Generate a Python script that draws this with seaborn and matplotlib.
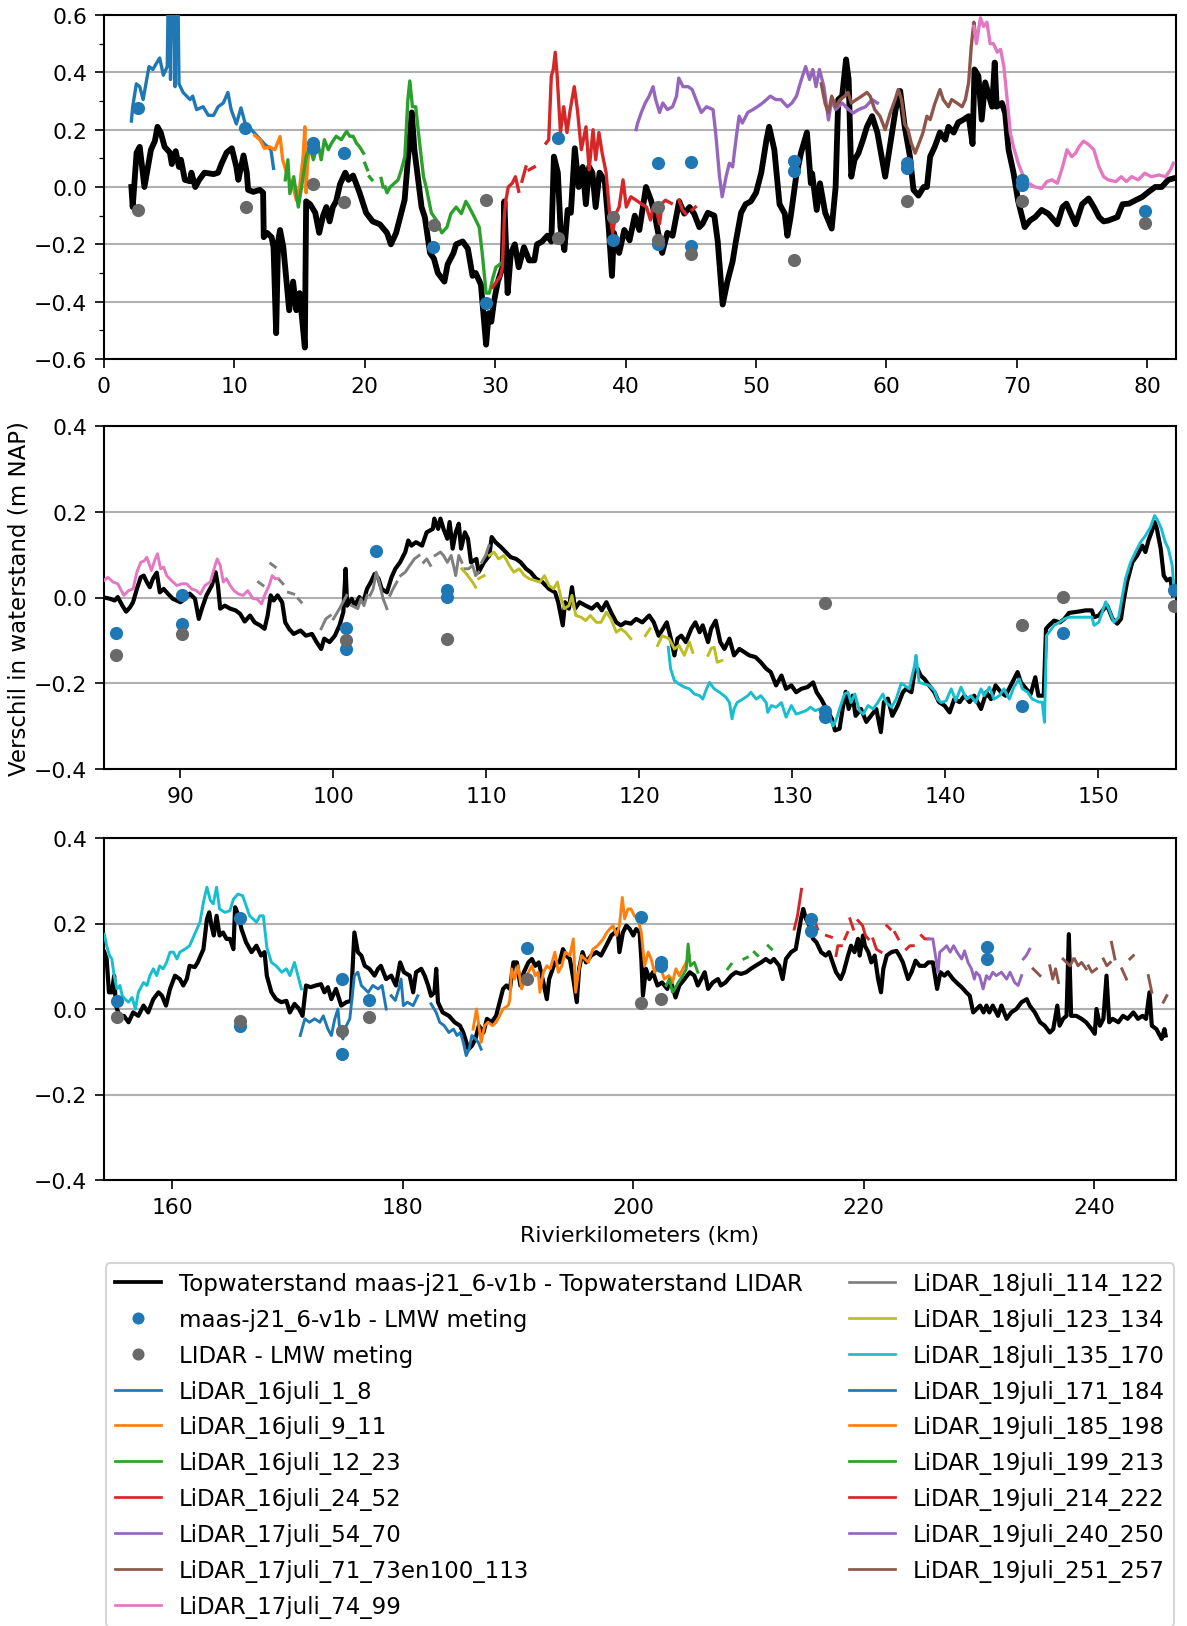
import numpy as np
import pandas as pd
import matplotlib
matplotlib.use("Agg")
import matplotlib.pyplot as plt
from matplotlib.lines import Line2D
from matplotlib.ticker import MultipleLocator
import seaborn as sns

GAP = (np.nan, np.nan)

# ---------------- Panel 1 (km 0 - 82) ----------------
p1_verschil = [
    (2.1, 0.0), (2.2, -0.07), (2.5, 0.12), (2.74, 0.14), (3.1, 0.0), (3.6, 0.13), (3.9, 0.16),
    (4.1, 0.21), (4.35, 0.19), (4.65, 0.14), (5.05, 0.12), (5.2, 0.08), (5.5, 0.125), (5.75, 0.07),
    (5.9, 0.095), (6.2, 0.025), (6.6, 0.02), (6.7, 0.05), (7.0, 0.0), (7.3, 0.025), (7.7, 0.05),
    (8.4, 0.045), (8.75, 0.05), (9.0, 0.08), (9.4, 0.12), (9.8, 0.135), (10.15, 0.07), (10.3, 0.025),
    (10.7, 0.11), (10.95, 0.05), (11.05, -0.01), (11.45, -0.017), (11.95, -0.01), (12.2, -0.02),
    (12.25, -0.175), (12.5, -0.16), (12.85, -0.175), (13.0, -0.21), (13.2, -0.51), (13.35, -0.19),
    (13.5, -0.15), (13.75, -0.21), (14.0, -0.33), (14.2, -0.43), (14.5, -0.33), (14.75, -0.43),
    (15.0, -0.37), (15.4, -0.56), (15.5, -0.05), (15.8, -0.06), (16.2, -0.09), (16.5, -0.16),
    (16.8, -0.1), (17.05, -0.07), (17.3, -0.12), (17.55, -0.07), (17.8, -0.05), (18.1, 0.01),
    (18.5, 0.05), (18.75, 0.025), (19.1, 0.04), (19.6, -0.02), (20.1, -0.09), (20.6, -0.12),
    (21.15, -0.13), (21.7, -0.16), (22.0, -0.2), (22.4, -0.16), (22.8, -0.09), (23.05, -0.045),
    (23.4, 0.15), (23.6, 0.26), (23.8, 0.13), (24.35, -0.07), (24.6, -0.105), (25.0, -0.23),
    (25.3, -0.25), (25.6, -0.3), (26.1, -0.33), (26.35, -0.27), (26.8, -0.23), (27.0, -0.2),
    (27.5, -0.19), (27.9, -0.215), (28.26, -0.31), (28.5, -0.3), (28.9, -0.34), (29.3, -0.55),
    (29.5, -0.44), (29.7, -0.47), (29.9, -0.40), (30.2, -0.33), (30.56, -0.28), (30.7, -0.05),
    (30.95, -0.37), (31.2, -0.23), (31.5, -0.2), (31.8, -0.28), (32.2, -0.21), (32.6, -0.256),
    (33.0, -0.256), (33.2, -0.2), (33.6, -0.19), (34.0, -0.17), (34.3, -0.19), (34.5, 0.106),
    (34.8, 0.05), (35.0, -0.14), (35.3, -0.22), (35.55, -0.08), (35.8, -0.09), (36.1, 0.135),
    (36.4, 0.0), (36.7, 0.07), (36.95, -0.06), (37.2, 0.07), (37.45, 0.05), (37.7, -0.07),
    (38.0, 0.05), (38.4, 0.02), (38.7, -0.14), (38.95, -0.31), (39.1, -0.16), (39.5, -0.23),
    (39.9, -0.15), (40.3, -0.186), (40.7, -0.10), (41.05, -0.15), (41.56, 0.0), (41.95, -0.047),
    (42.2, -0.09), (42.45, -0.15), (42.8, -0.23), (43.2, -0.16), (43.6, -0.17), (44.1, -0.05),
    (44.5, -0.093), (44.9, -0.07), (45.25, -0.093), (45.65, -0.14), (45.9, -0.128), (46.3, -0.09),
    (46.8, -0.10), (47.06, -0.19), (47.44, -0.41), (47.8, -0.33), (48.2, -0.26), (48.45, -0.19),
    (48.85, -0.09), (49.2, -0.06), (49.6, -0.05), (50.0, -0.02), (50.4, 0.05), (50.8, 0.165),
    (51.0, 0.21), (51.4, 0.13), (51.8, -0.06), (52.2, -0.093), (52.4, -0.17), (52.65, -0.105),
    (53.07, 0.036), (53.45, 0.12), (53.9, 0.19), (54.2, 0.013), (54.3, 0.047), (54.65, -0.08),
    (54.9, 0.013), (55.3, -0.09), (55.8, -0.145), (56.1, 0.0), (56.3, 0.305), (56.6, 0.317),
    (56.9, 0.445), (57.1, 0.375), (57.3, 0.036), (57.55, 0.095), (57.85, 0.118), (58.2, 0.165),
    (58.5, 0.21), (58.9, 0.247), (59.3, 0.19), (59.9, 0.036), (60.3, 0.153), (60.7, 0.27),
    (61.05, 0.335), (61.4, 0.21), (61.8, 0.106), (62.07, -0.01), (62.45, -0.03), (62.85, 0.0),
    (63.1, 0.0), (63.35, 0.106), (63.7, 0.14), (64.1, 0.19), (64.5, 0.165), (64.75, 0.21),
    (65.15, 0.19), (65.5, 0.225), (65.9, 0.235), (66.3, 0.247), (66.6, 0.15), (66.75, 0.41),
    (67.05, 0.387), (67.3, 0.235), (67.57, 0.365), (67.8, 0.328), (68.1, 0.28), (68.3, 0.434),
    (68.45, 0.28), (68.85, 0.293), (69.1, 0.258), (69.36, 0.13), (69.74, 0.05), (70.1, -0.05),
    (70.6, -0.14), (71.0, -0.117), (71.4, -0.105), (71.9, -0.08), (72.4, -0.093), (73.1, -0.13),
    (73.5, -0.07), (73.8, -0.058), (74.5, -0.13), (75.0, -0.06), (75.5, -0.04), (75.9, -0.07),
    (76.3, -0.105), (76.65, -0.12), (77.0, -0.117), (77.7, -0.105), (78.1, -0.06), (78.6, -0.058),
    (79.1, -0.046), (79.6, -0.035), (80.1, -0.017), (80.6, 0.0), (81.1, 0.0), (81.6, 0.025), (82.0, 0.03),
]

p1_16juli_1_8 = [
    (2.1, 0.23), (2.2, 0.28), (2.48, 0.36), (2.74, 0.35), (3.0, 0.305), (3.45, 0.42), (3.75, 0.41),
    (4.0, 0.43), (4.27, 0.45), (4.55, 0.39), (4.85, 0.42), (5.0, 0.95), (5.1, 0.375), (5.3, 0.95),
    (5.45, 0.35), (5.6, 0.95), (5.75, 0.36), (6.06, 0.33), (6.6, 0.305), (6.8, 0.317), (7.1, 0.27),
    (7.6, 0.28), (8.0, 0.25), (8.4, 0.25), (8.75, 0.28), (9.15, 0.293), (9.5, 0.33), (9.75, 0.27),
    (10.15, 0.22), (10.5, 0.276), (10.9, 0.21), (11.3, 0.2), (11.7, 0.18), (12.3, 0.15),
    (12.8, 0.13), (13.0, 0.065),
]

p1_16juli_9_11 = [
    (11.56, 0.18), (11.95, 0.165), (12.3, 0.135), (12.7, 0.14), (13.1, 0.13), (13.5, 0.176),
    (13.7, 0.095), (14.1, 0.036), (14.5, 0.0), (14.75, -0.046), (15.0, 0.0), (15.27, 0.106),
    (15.4, 0.21), (15.5, -0.02), (15.6, 0.08), (15.8, 0.15),
]

p1_16juli_12_23 = [
    (13.9, 0.025), (14.1, 0.095), (14.25, -0.023), (14.55, 0.036), (14.9, -0.07), (15.15, 0.0),
    (15.5, 0.106), (15.8, 0.14), (16.05, 0.095), (16.4, 0.153), (16.65, 0.095), (16.9, 0.165),
    (17.2, 0.13), (17.45, 0.153), (17.8, 0.177), (18.2, 0.165), (18.6, 0.194), (18.85, 0.177),
    (19.1, 0.177), (19.36, 0.153), (19.6, 0.14), (19.9, 0.118), GAP,
    (20.0, 0.083), (20.2, 0.06), GAP, (20.35, 0.036), (20.55, 0.025), GAP,
    (21.25, 0.03), (21.4, 0.0), GAP, (21.55, 0.0), (21.7, -0.02), (21.95, 0.0), (22.55, 0.025),
    (22.8, 0.06), (23.07, 0.106), (23.3, 0.305), (23.45, 0.37), (23.65, 0.28), (23.9, 0.28),
    (24.2, 0.153), (24.5, 0.036), (24.7, 0.0), (25.1, -0.09), (25.5, -0.117), (25.9, -0.16),
    (26.3, -0.14), (26.6, -0.093), (27.0, -0.07), (27.4, -0.093), (27.75, -0.05), (28.0, -0.07),
    (28.4, -0.105), (28.77, -0.14), (29.0, -0.23), (29.3, -0.37), (29.55, -0.37), (29.8, -0.32),
    (30.05, -0.28), (30.4, -0.268),
]

p1_16juli_24_52 = [
    (29.8, -0.35), (30.1, -0.33), (30.4, -0.31), (30.55, -0.28), (30.7, -0.10), (30.8, -0.05),
    (31.0, 0.0), (31.3, 0.013), (31.55, 0.036), (31.8, -0.015), GAP,
    (32.05, 0.02), (32.35, 0.07), GAP, (32.6, 0.06), (33.0, 0.07), GAP,
    (33.9, 0.153), (34.1, 0.165), (34.3, 0.387), (34.45, 0.41), (34.6, 0.47), (34.75, 0.387),
    (35.0, 0.19), (35.25, 0.28), (35.5, 0.19), (35.75, 0.27), (36.06, 0.35), (36.3, 0.27),
    (36.6, 0.13), (36.96, 0.21), (37.2, 0.06), (37.5, 0.2), (37.7, 0.095), (37.95, 0.19),
    (38.2, 0.118), (38.5, 0.05), (38.75, -0.08), (39.0, -0.16), (39.25, -0.093), (39.5, -0.07),
    (39.8, 0.025), (40.05, -0.07), (40.4, -0.034), (40.8, -0.046), (41.15, -0.057), (41.6, -0.07),
    (41.9, -0.115), (42.1, -0.07), (42.35, -0.08), (42.6, -0.128), (42.8, -0.057), (43.05, -0.046),
    (43.5, -0.057), GAP, (44.1, -0.046), (44.35, -0.08), (44.6, -0.093), GAP,
    (45.1, -0.08), (45.35, -0.07),
]

p1_17juli_54_70 = [
    (40.8, 0.2), (40.9, 0.22), (41.2, 0.26), (41.5, 0.293), (41.8, 0.317), (42.1, 0.35),
    (42.3, 0.305), (42.6, 0.26), (42.85, 0.293), (43.2, 0.27), (43.6, 0.28), (43.9, 0.317),
    (44.07, 0.38), (44.4, 0.35), (44.8, 0.35), (45.1, 0.34), (45.5, 0.293), (45.8, 0.26),
    (46.2, 0.28), (46.7, 0.27), (46.9, 0.19), (47.2, 0.036), (47.4, -0.034), (47.7, 0.036),
    (47.95, 0.083), (48.2, 0.07), (48.5, 0.18), (48.7, 0.247), (48.95, 0.223), (49.36, 0.26),
    (49.75, 0.27), (50.1, 0.28), (50.5, 0.293), (50.8, 0.305), (51.1, 0.317), (51.5, 0.305),
    (51.9, 0.305), (52.4, 0.28), (52.75, 0.293), (53.1, 0.317), (53.4, 0.364), (53.8, 0.42),
    (54.1, 0.375), (54.35, 0.41), (54.6, 0.35), (54.86, 0.41), (55.2, 0.35), (55.55, 0.234),
    (55.8, 0.305), (56.1, 0.27), (56.6, 0.293), (57.1, 0.27), (57.45, 0.258), (57.85, 0.27),
    (58.4, 0.28), (58.9, 0.305), (59.3, 0.293),
]

p1_17juli_71_73en100_113 = [
    (55.0, 0.36), (55.3, 0.29), (55.55, 0.26), (55.8, 0.317), (56.1, 0.28), (56.45, 0.305),
    (56.8, 0.317), (57.05, 0.33), (57.3, 0.293), (57.7, 0.305), (58.1, 0.317), (58.5, 0.33),
    (58.75, 0.317), (59.1, 0.27), (59.5, 0.247), (59.9, 0.2), (60.3, 0.26), (60.66, 0.305),
    (60.9, 0.34), (61.15, 0.305), (61.4, 0.22), (61.65, 0.2), (61.9, 0.153), (62.2, 0.118),
    (62.6, 0.165), (62.8, 0.19), (63.1, 0.247), (63.35, 0.235), (63.7, 0.29), (64.1, 0.34),
    (64.35, 0.305), (64.75, 0.28), (65.0, 0.305), (65.4, 0.293), (65.8, 0.28), (66.05, 0.305),
    (66.3, 0.364), (66.5, 0.49), (66.7, 0.575), (66.8, 0.54),
]

p1_17juli_74_99 = [
    (66.7, 0.56), (66.9, 0.5), (67.2, 0.59), (67.45, 0.56), (67.7, 0.575), (67.95, 0.5),
    (68.2, 0.5), (68.5, 0.47), (68.75, 0.48), (69.0, 0.42), (69.2, 0.33), (69.5, 0.188),
    (69.74, 0.14), (70.1, 0.083), (70.5, 0.036), (70.9, 0.013), (71.4, 0.0), (71.9, -0.005),
    (72.3, 0.019), (72.7, 0.025), (73.1, 0.013), (73.5, 0.07), (73.84, 0.13), (74.2, 0.106),
    (74.5, 0.118), (74.76, 0.14), (75.1, 0.16), (75.5, 0.148), (75.9, 0.13), (76.3, 0.07),
    (76.65, 0.036), (77.0, 0.025), (77.6, 0.019), (78.0, 0.036), (78.4, 0.019), (78.8, 0.036),
    (79.3, 0.025), (79.8, 0.048), (80.3, 0.036), (80.9, 0.042), (81.4, 0.036), (81.77, 0.06),
    (82.0, 0.083),
]

p1_lmw_km = [2.6, 10.8, 16.0, 16.0, 18.4, 25.2, 29.3, 34.8, 39.0, 42.5, 42.5, 45.0, 45.0,
             52.9, 52.9, 61.6, 61.6, 70.4, 70.4, 79.8]
p1_model_lmw = [0.276, 0.206, 0.153, 0.136, 0.12, -0.21, -0.405, 0.17, -0.186, 0.083, -0.2,
                0.087, -0.205, 0.092, 0.057, 0.083, 0.065, 0.025, 0.007, -0.083]
p1_lidar_km = [2.6, 10.9, 16.0, 18.4, 25.3, 29.3, 34.8, 39.0, 42.5, 42.5, 45.0, 52.9, 61.6, 70.4, 79.8]
p1_lidar_lmw = [-0.08, -0.07, 0.01, -0.053, -0.133, -0.046, -0.177, -0.106, -0.07, -0.184,
                -0.233, -0.256, -0.05, -0.048, -0.127]

# ---------------- Panel 2 (km 85 - 155) ----------------
p2_verschil = [
    (85.0, 0.0), (85.4, -0.003), (85.7, -0.007), (85.9, 0.001), (86.2, -0.019), (86.45, -0.033),
    (86.7, -0.023), (86.9, -0.011), (87.15, 0.02), (87.4, 0.047), (87.6, 0.051), (87.8, 0.036),
    (88.0, 0.024), (88.2, 0.044), (88.45, 0.058), (88.65, 0.012), (88.9, 0.02), (89.2, 0.008),
    (89.5, -0.003), (90.0, -0.011), (90.3, -0.003), (90.6, 0.009), (90.95, -0.003), (91.2, -0.05),
    (91.4, -0.026), (91.7, 0.005), (92.05, 0.028), (92.3, 0.059), (92.45, 0.028), (92.6, -0.026),
    (92.9, -0.019), (93.25, -0.026), (93.6, -0.03), (93.9, -0.038), (94.2, -0.056), (94.55, -0.042),
    (94.85, -0.058), (95.2, -0.065), (95.5, -0.073), (95.7, -0.042), (95.9, 0.005), (96.1, -0.007),
    (96.35, 0.005), (96.65, -0.011), (96.85, -0.058), (97.1, -0.073), (97.4, -0.085), (97.85, -0.077),
    (98.2, -0.089), (98.6, -0.085), (98.9, -0.104), (99.2, -0.12), (99.4, -0.096), (99.75, -0.104),
    (100.1, -0.089), (100.4, -0.065), (100.65, -0.034), (100.8, 0.067), (100.9, -0.019),
    (101.2, -0.003), (101.4, -0.019), (101.7, 0.001), (101.95, -0.011), (102.2, 0.02),
    (102.45, 0.036), (102.7, 0.055), (102.95, 0.044), (103.16, 0.02), (103.5, 0.012),
    (103.8, 0.047), (104.05, 0.067), (104.36, 0.082), (104.7, 0.106), (104.9, 0.133),
    (105.1, 0.121), (105.4, 0.129), (105.8, 0.121), (106.1, 0.152), (106.5, 0.16), (106.6, 0.184),
    (106.85, 0.16), (107.0, 0.184), (107.2, 0.16), (107.45, 0.137), (107.6, 0.176), (107.8, 0.114),
    (108.0, 0.152), (108.2, 0.172), (108.35, 0.114), (108.6, 0.152), (108.8, 0.137), (109.0, 0.082),
    (109.35, 0.09), (109.5, 0.059), (109.85, 0.082), (110.2, 0.098), (110.35, 0.141), (110.6, 0.129),
    (110.94, 0.118), (111.27, 0.106), (111.6, 0.094), (111.95, 0.09), (112.25, 0.082),
    (112.6, 0.067), (112.9, 0.059), (113.25, 0.044), (113.67, 0.036), (114.1, 0.02), (114.5, 0.012),
    (114.7, -0.011), (115.0, -0.065), (115.15, -0.011), (115.4, -0.026), (115.6, 0.024),
    (115.8, -0.026), (116.1, -0.011), (116.5, -0.019), (116.9, -0.026), (117.25, -0.015),
    (117.55, -0.03), (117.85, -0.011), (118.15, -0.034), (118.5, -0.058), (118.8, -0.065),
    (119.1, -0.058), (119.45, -0.061), (119.8, -0.05), (120.2, -0.058), (120.65, -0.042),
    (120.95, -0.058), (121.27, -0.089), (121.55, -0.073), (121.8, -0.058), (122.07, -0.096),
    (122.3, -0.135), (122.5, -0.096), (122.75, -0.089), (123.05, -0.104), (123.4, -0.073),
    (123.67, -0.058), (123.95, -0.081), (124.15, -0.065), (124.5, -0.104), (124.7, -0.073),
    (125.0, -0.054), (125.3, -0.104), (125.57, -0.12), (125.9, -0.096), (126.2, -0.135),
    (126.55, -0.12), (126.9, -0.128), (127.2, -0.135), (127.6, -0.139), (127.95, -0.151),
    (128.3, -0.166), (128.6, -0.174), (128.95, -0.205), (129.3, -0.182), (129.6, -0.213),
    (129.95, -0.205), (130.26, -0.221), (130.6, -0.213), (131.0, -0.209), (131.37, -0.198),
    (131.6, -0.221), (131.9, -0.237), (132.24, -0.26), (132.6, -0.283), (132.8, -0.31),
    (133.1, -0.306), (133.3, -0.26), (133.5, -0.22), (133.7, -0.26), (133.95, -0.229),
    (134.15, -0.276), (134.5, -0.26), (134.85, -0.29), (135.15, -0.276), (135.5, -0.26),
    (135.8, -0.314), (136.0, -0.244), (136.26, -0.236), (136.55, -0.276), (136.9, -0.252),
    (137.24, -0.221), (137.45, -0.213), (137.8, -0.221), (138.0, -0.174), (138.2, -0.166),
    (138.4, -0.182), (138.65, -0.19), (138.95, -0.205), (139.3, -0.221), (139.6, -0.244),
    (139.96, -0.252), (140.3, -0.268), (140.6, -0.237), (140.95, -0.244), (141.26, -0.229),
    (141.6, -0.244), (141.9, -0.229), (142.35, -0.26), (142.7, -0.221), (143.0, -0.237),
    (143.3, -0.205), (143.65, -0.221), (143.95, -0.229), (144.4, -0.198), (144.74, -0.174),
    (144.96, -0.198), (145.3, -0.213), (145.6, -0.225), (145.9, -0.186), (146.1, -0.229),
    (146.45, -0.229), (146.6, -0.073), (146.8, -0.065), (147.13, -0.054), (147.5, -0.058),
    (147.8, -0.05), (148.1, -0.036), (148.7, -0.033), (149.2, -0.03), (149.6, -0.03),
    (149.74, -0.046), (150.05, -0.042), (150.4, -0.026), (150.6, -0.019), (150.95, -0.05),
    (151.26, -0.061), (151.5, -0.05), (151.7, -0.003), (151.9, 0.036), (152.24, 0.082),
    (152.56, 0.098), (152.9, 0.121), (153.1, 0.106), (153.3, 0.133), (153.5, 0.152),
    (153.7, 0.176), (153.85, 0.16), (154.1, 0.114), (154.3, 0.051), (154.5, 0.04),
    (154.74, 0.044), (154.9, 0.005),
]

p2_17juli_74_99 = [
    (85.0, 0.04), (85.25, 0.047), (85.6, 0.036), (85.9, 0.032), (86.3, 0.005), (86.6, 0.016),
    (86.9, 0.02), (87.15, 0.059), (87.4, 0.082), (87.65, 0.086), (87.8, 0.094), (88.1, 0.063),
    (88.35, 0.09), (88.5, 0.102), (88.7, 0.067), (88.9, 0.071), (89.1, 0.051), (89.4, 0.04),
    (89.76, 0.028), (90.1, 0.032), (90.4, 0.032), (90.74, 0.02), (91.05, 0.016), (91.3, 0.008),
    (91.6, 0.028), (91.95, 0.036), (92.2, 0.067), (92.4, 0.09), (92.6, 0.075), (92.8, 0.036),
    (93.0, 0.044), (93.25, 0.028), (93.5, 0.016), (93.8, 0.008), (94.1, 0.005), (94.4, 0.016),
    (94.75, -0.003), (95.0, -0.003), (95.3, -0.015), (95.5, 0.005), (95.8, 0.028), (96.0, 0.051),
    (96.2, 0.044), (96.4, 0.044),
]

p2_18juli_114_122 = [
    (95.1, 0.036), (95.4, 0.028), GAP, (95.9, 0.079), (96.2, 0.071), GAP, (96.5, 0.04),
    (96.7, 0.032), GAP, (97.06, 0.012), (97.4, 0.008), GAP, (97.7, -0.003), (97.9, -0.011), GAP,
    (99.2, -0.073), (99.5, -0.05), (99.8, -0.042), GAP, (100.0, -0.05), (100.4, -0.026),
    (100.87, 0.005), GAP, (101.2, -0.019), (101.6, -0.026), (101.8, -0.003), (102.0, -0.019),
    (102.2, 0.005), GAP, (102.4, 0.005), (102.6, 0.02), (102.8, 0.059), (103.0, 0.036),
    (103.25, -0.003), (103.5, -0.026), GAP, (103.7, 0.005), (103.9, 0.02), (104.15, 0.036), GAP,
    (104.4, 0.051), (104.7, 0.059), (105.0, 0.075), (105.3, 0.09), (105.6, 0.098), GAP,
    (105.9, 0.082), (106.1, 0.09), (106.35, 0.075), GAP, (106.65, 0.098), (107.0, 0.106),
    (107.2, 0.098), (107.45, 0.082), (107.7, 0.098), (107.9, 0.067), (108.0, 0.051), (108.2, 0.098),
    (108.4, 0.082), GAP, (108.6, 0.067), (108.85, 0.067), (109.1, 0.075), (109.3, 0.051),
    (109.5, 0.059), GAP, (109.7, 0.082), (109.95, 0.098), (110.17, 0.121),
]

p2_18juli_123_134 = [
    (108.4, 0.067), (108.7, 0.055), (109.1, 0.036), (109.3, 0.024), GAP, (109.5, 0.044),
    (109.85, 0.051), GAP, (110.2, 0.098), (110.5, 0.106), (110.8, 0.09), (111.15, 0.098),
    (111.5, 0.075), (111.8, 0.059), (112.15, 0.067), (112.5, 0.051), (112.8, 0.044),
    (113.15, 0.04), (113.5, 0.036), (113.8, 0.051), (114.1, 0.028), (114.4, 0.02), (114.65, 0.036),
    (114.9, -0.003), (115.1, -0.026), (115.4, -0.019), (115.6, 0.005), (115.85, -0.042),
    (116.2, -0.046), (116.5, -0.054), (116.8, -0.042), (117.2, -0.058), (117.5, -0.058),
    (117.85, -0.034), (118.15, -0.05), (118.5, -0.081), (118.8, -0.073), (119.1, -0.081),
    (119.45, -0.096), GAP, (120.4, -0.089), (120.7, -0.073), GAP, (121.2, -0.112), (121.5, -0.089),
    (121.95, -0.096), (122.3, -0.12), (122.6, -0.112), (122.95, -0.135), (123.27, -0.104),
    (123.5, -0.128), GAP, (124.5, -0.135), (124.7, -0.119), (124.9, -0.116), (125.1, -0.151),
    (125.4, -0.147),
]

p2_18juli_135_170 = [
    (121.9, -0.116), (122.05, -0.166), (122.3, -0.194), (122.6, -0.202), (122.95, -0.209),
    (123.27, -0.213), (123.6, -0.225), (123.95, -0.229), (124.15, -0.237), (124.4, -0.213),
    (124.6, -0.198), (124.9, -0.213), (125.25, -0.221), (125.68, -0.233), (125.9, -0.245),
    (126.07, -0.283), (126.2, -0.26), (126.4, -0.245), (126.77, -0.237), (127.1, -0.229),
    (127.3, -0.221), (127.65, -0.237), (127.95, -0.229), (128.3, -0.245), (128.4, -0.268),
    (128.65, -0.252), (128.95, -0.256), (129.3, -0.245), (129.6, -0.279), (129.95, -0.252),
    (130.26, -0.272), (130.6, -0.268), (130.9, -0.264), (131.2, -0.256), (131.5, -0.264),
    (131.8, -0.26), (132.13, -0.264), (132.46, -0.279), (132.67, -0.3), (132.9, -0.283),
    (133.1, -0.26), (133.43, -0.225), (133.65, -0.221), (133.85, -0.245), (134.1, -0.225),
    (134.4, -0.264), (134.65, -0.272), (134.96, -0.252), (135.3, -0.26), (135.6, -0.245),
    (135.93, -0.225), (136.15, -0.245), (136.5, -0.256), (136.8, -0.237), (137.13, -0.2),
    (137.35, -0.205), (137.65, -0.213), (138.0, -0.159), (138.1, -0.135), (138.3, -0.198),
    (138.65, -0.202), (138.95, -0.205), (139.3, -0.217), (139.5, -0.237), (139.75, -0.245),
    (140.07, -0.241), (140.4, -0.213), (140.7, -0.241), (141.04, -0.209), (141.4, -0.237),
    (141.7, -0.229), (142.0, -0.245), (142.35, -0.213), (142.55, -0.229), (142.9, -0.209),
    (143.2, -0.237), (143.55, -0.229), (143.85, -0.213), (144.2, -0.237), (144.5, -0.209),
    (144.85, -0.19), (145.05, -0.213), (145.4, -0.221), (145.7, -0.237), (146.15, -0.244),
    (146.35, -0.244), (146.5, -0.291), (146.63, -0.089), (146.8, -0.081), (147.13, -0.065),
    (147.46, -0.058), (147.8, -0.05), (148.1, -0.046), (148.7, -0.046), (149.2, -0.046),
    (149.6, -0.046), (149.74, -0.065), (150.05, -0.058), (150.5, -0.01), (150.7, -0.026),
    (151.04, -0.058), (151.35, -0.046), (151.6, 0.005), (151.8, 0.044), (152.13, 0.082),
    (152.45, 0.106), (152.78, 0.129), (153.1, 0.144), (153.43, 0.164), (153.7, 0.191),
    (153.9, 0.18), (154.15, 0.16), (154.4, 0.129), (154.6, 0.114), (154.85, 0.075), (154.95, 0.028),
]

p2_lmw_km = [85.8, 90.1, 90.1, 100.8, 100.8, 102.77, 107.45, 107.45, 132.13, 132.13, 145.0, 147.74, 154.96]
p2_model_lmw = [-0.083, 0.005, -0.061, -0.071, -0.12, 0.108, 0.018, 0.001, -0.264, -0.279,
                -0.254, -0.083, 0.018]
p2_lidar_km = [85.8, 90.1, 100.8, 107.45, 132.13, 145.0, 147.74, 154.96]
p2_lidar_lmw = [-0.133, -0.085, -0.1, -0.096, -0.012, -0.063, 0.001, -0.019]

# ---------------- Panel 3 (km 154 - 247) ----------------
p3_verschil = [
    (154.1, 0.133), (154.3, 0.117), (154.5, 0.039), (154.75, 0.039), (154.95, 0.078), (155.1, 0.008),
    (155.5, -0.023), (155.8, -0.016), (156.2, -0.031), (156.6, -0.008), (157.05, -0.016),
    (157.5, 0.008), (157.9, -0.008), (158.35, 0.023), (158.8, 0.039), (159.1, 0.031),
    (159.45, 0.008), (159.8, 0.047), (160.23, 0.078), (160.65, 0.07), (160.95, 0.055),
    (161.25, 0.07), (161.5, 0.101), (161.95, 0.098), (162.2, 0.109), (162.7, 0.14), (163.0, 0.21),
    (163.2, 0.226), (163.4, 0.195), (163.6, 0.172), (163.84, 0.218), (164.1, 0.172), (164.4, 0.179),
    (164.7, 0.164), (165.0, 0.164), (165.3, 0.14), (165.45, 0.238), (165.7, 0.222), (166.0, 0.187),
    (166.4, 0.156), (166.87, 0.133), (167.3, 0.148), (167.7, 0.125), (168.0, 0.133), (168.2, 0.078),
    (168.6, 0.039), (169.0, 0.023), (169.45, 0.016), (169.9, 0.019), (170.2, -0.008), (170.6, 0.012),
    (171.0, 0.0), (171.3, -0.016), (171.6, 0.055), (172.0, 0.051), (172.45, 0.055), (172.9, 0.058),
    (173.2, 0.039), (173.5, 0.051), (173.8, 0.023), (174.2, 0.047), (174.66, 0.008), (175.1, 0.016),
    (175.5, 0.019), (175.8, 0.179), (176.1, 0.133), (176.4, 0.125), (176.7, 0.101), (177.1, 0.094),
    (177.55, 0.078), (177.85, 0.094), (178.1, 0.101), (178.55, 0.07), (179.0, 0.078),
    (179.4, 0.055), (179.77, 0.109), (180.1, 0.086), (180.6, 0.078), (180.9, 0.039),
    (181.15, 0.086), (181.6, 0.094), (181.9, 0.078), (182.2, 0.055), (182.45, 0.031),
    (182.75, 0.039), (182.9, 0.094), (183.05, 0.016), (183.46, -0.008), (184.0, -0.016),
    (184.5, -0.031), (184.96, -0.039), (185.25, -0.055), (185.7, -0.094), (186.0, -0.086),
    (186.3, -0.07), (186.6, -0.039), (187.0, -0.055), (187.3, -0.023), (187.7, -0.031),
    (188.1, -0.016), (188.4, 0.016), (188.7, 0.047), (189.0, 0.055), (189.3, 0.047),
    (189.6, 0.109), (189.9, 0.109), (190.2, 0.055), (190.5, 0.086), (190.9, 0.109), (191.2, 0.117),
    (191.5, 0.101), (191.8, 0.109), (192.2, 0.062), (192.5, 0.023), (192.7, 0.07), (193.2, 0.109),
    (193.6, 0.109), (193.9, 0.14), (194.2, 0.125), (194.5, 0.117), (194.8, 0.07), (195.1, 0.016),
    (195.3, 0.094), (195.6, 0.133), (195.9, 0.109), (196.35, 0.125), (196.8, 0.133),
    (197.2, 0.125), (197.65, 0.148), (198.1, 0.172), (198.4, 0.179), (198.65, 0.187),
    (198.8, 0.133), (199.1, 0.179), (199.4, 0.195), (199.7, 0.187), (200.0, 0.172),
    (200.25, 0.187), (200.55, 0.179), (200.7, 0.117), (200.84, 0.031), (201.1, 0.094),
    (201.4, 0.07), (201.7, 0.086), (202.1, 0.055), (202.5, 0.062), (202.95, 0.047), (203.2, 0.07),
    (203.67, 0.027), (204.0, 0.055), (204.45, 0.07), (204.9, 0.086), (205.3, 0.078),
    (205.6, 0.055), (205.9, 0.07), (206.2, 0.086), (206.5, 0.047), (206.9, 0.062), (207.35, 0.07),
    (207.6, 0.055), (208.0, 0.062), (208.5, 0.078), (208.9, 0.086), (209.35, 0.082),
    (209.8, 0.086), (210.2, 0.094), (210.6, 0.101), (211.1, 0.109), (211.5, 0.117),
    (211.9, 0.109), (212.2, 0.117), (212.67, 0.101), (212.96, 0.07), (213.25, 0.117),
    (213.7, 0.133), (214.1, 0.14), (214.55, 0.21), (214.75, 0.234), (215.0, 0.21), (215.3, 0.195),
    (215.6, 0.164), (215.9, 0.156), (216.3, 0.133), (216.7, 0.125), (217.0, 0.133),
    (217.3, 0.109), (217.6, 0.086), (218.0, 0.07), (218.25, 0.086), (218.64, 0.125),
    (218.9, 0.148), (219.2, 0.133), (219.5, 0.164), (219.65, 0.125), (219.94, 0.172),
    (220.1, 0.148), (220.4, 0.133), (220.66, 0.109), (220.95, 0.125), (221.25, 0.07),
    (221.5, 0.039), (221.7, 0.094), (222.0, 0.125), (222.4, 0.133), (222.84, 0.136),
    (223.1, 0.125), (223.4, 0.109), (223.85, 0.07), (224.15, 0.086), (224.5, 0.113),
    (224.85, 0.101), (225.3, 0.101), (225.6, 0.109), (226.0, 0.109), (226.37, 0.047),
    (226.65, 0.086), (227.0, 0.078), (227.3, 0.086), (227.75, 0.07), (228.05, 0.062),
    (228.5, 0.051), (228.9, 0.039), (229.2, 0.031), (229.5, -0.008), (229.8, 0.0), (230.1, 0.008),
    (230.4, -0.008), (230.65, 0.008), (230.9, -0.008), (231.2, 0.008), (231.65, -0.016),
    (231.95, 0.008), (232.4, -0.023), (232.8, -0.008), (233.25, 0.0), (233.7, 0.016),
    (234.15, 0.023), (234.4, 0.008), (234.85, -0.008), (235.3, -0.031), (235.7, -0.039),
    (236.15, -0.055), (236.45, -0.047), (236.8, 0.008), (237.0, -0.039), (237.3, -0.023),
    (237.6, -0.016), (237.8, 0.175), (238.0, -0.016), (238.45, -0.016), (238.9, -0.023),
    (239.3, -0.031), (239.77, -0.047), (240.05, -0.058), (240.2, 0.0), (240.5, -0.039),
    (240.8, -0.023), (241.07, 0.078), (241.3, -0.031), (241.6, -0.023), (242.1, -0.031),
    (242.5, -0.016), (242.9, -0.023), (243.4, -0.008), (243.8, -0.023), (244.2, -0.016),
    (244.5, -0.023), (244.8, 0.039), (245.0, -0.039), (245.4, -0.047), (245.85, -0.07),
    (246.1, -0.047), (246.2, -0.062),
]

p3_18juli_135_170 = [
    (154.1, 0.175), (154.3, 0.148), (154.55, 0.125), (154.75, 0.117), (154.95, 0.078),
    (155.2, 0.047), (155.45, 0.055), (155.65, 0.031), (155.9, 0.023), (156.2, 0.016),
    (156.5, 0.027), (156.8, 0.0), (157.05, 0.039), (157.5, 0.062), (157.8, 0.055), (158.05, 0.078),
    (158.35, 0.094), (158.65, 0.078), (158.9, 0.101), (159.2, 0.094), (159.5, 0.109),
    (159.8, 0.133), (160.1, 0.133), (160.4, 0.117), (160.65, 0.133), (161.1, 0.14), (161.5, 0.148),
    (162.0, 0.179), (162.4, 0.203), (162.7, 0.25), (163.0, 0.285), (163.3, 0.254), (163.55, 0.246),
    (163.84, 0.285), (164.1, 0.234), (164.56, 0.226), (165.0, 0.23), (165.3, 0.257),
    (165.7, 0.269), (166.1, 0.265), (166.4, 0.242), (166.7, 0.218), (167.0, 0.211),
    (167.3, 0.203), (167.6, 0.218), (167.9, 0.218), (168.2, 0.144), (168.6, 0.109),
    (169.0, 0.101), (169.5, 0.086), (169.9, 0.094), (170.2, 0.078), (170.6, 0.109),
    (170.9, 0.078), (171.2, 0.047),
]

p3_19juli_171_184 = [
    (171.1, -0.062), (171.5, -0.023), (171.9, -0.031), (172.35, -0.023), (172.8, -0.031),
    (173.1, -0.016), (173.5, -0.047), (173.8, -0.062), (174.1, -0.023), (174.37, 0.0),
    (174.55, -0.055), (174.8, -0.07), (175.1, -0.039), (175.4, -0.023), (175.8, 0.078),
    (176.1, 0.086), (176.4, 0.055), (176.7, 0.047), (177.0, 0.039), (177.4, 0.055),
    (177.85, 0.047), (178.2, 0.055), (178.56, 0.0), GAP, (179.0, 0.031), (179.35, 0.02),
    (179.65, 0.047), (179.85, 0.07), (180.05, 0.008), (180.4, 0.016), (180.9, 0.008),
    (181.3, 0.031), GAP, (182.45, 0.012), (182.9, -0.008), (183.2, -0.031), (183.6, -0.039),
    (184.0, -0.055), (184.4, -0.047), (184.7, -0.062), (185.0, -0.055), (185.25, -0.078),
    (185.5, -0.109), (185.75, -0.094), (186.0, -0.062), (186.3, -0.07), (186.55, -0.078),
    (186.8, -0.094),
]

p3_19juli_185_198 = [
    (186.1, -0.047), (186.4, 0.0), (186.6, -0.039), (186.8, -0.078), (187.1, -0.039),
    (187.4, -0.031), (187.8, -0.039), (188.1, -0.031), (188.4, -0.016), (188.7, 0.0),
    (189.15, 0.008), (189.3, 0.023), (189.44, 0.094), (189.7, 0.07), (190.0, 0.101),
    (190.3, 0.047), (190.74, 0.078), (191.2, 0.101), (191.5, 0.078), (191.75, 0.086),
    (191.9, 0.039), (192.2, 0.086), (192.5, 0.101), (192.8, 0.094), (193.2, 0.133),
    (193.5, 0.086), (193.8, 0.101), (194.1, 0.133), (194.5, 0.125), (194.8, 0.164),
    (195.0, 0.039), (195.2, 0.078), (195.5, 0.125), (195.8, 0.117), (196.1, 0.109),
    (196.5, 0.14), (196.9, 0.148), (197.4, 0.164), (197.7, 0.179), (197.95, 0.187),
    (198.24, 0.195), (198.55, 0.172), (198.8, 0.195), (199.05, 0.261), (199.25, 0.211),
    (199.54, 0.234), (199.8, 0.234), (200.1, 0.218), (200.4, 0.211), (200.7, 0.179),
    (200.98, 0.101), (201.3, 0.133), (201.55, 0.117), (201.85, 0.086), (202.3, 0.101),
    (202.7, 0.07), (203.1, 0.078), (203.4, 0.062), (203.7, 0.094), (204.0, 0.078),
    (204.3, 0.094), (204.6, 0.109), (204.9, 0.125),
]

p3_19juli_199_213 = [
    (202.86, 0.055), (203.15, 0.07), (203.4, 0.039), (203.6, 0.047), (203.9, 0.062),
    (204.3, 0.078), (204.6, 0.094), (204.76, 0.152), (204.95, 0.101), (205.3, 0.109),
    (205.6, 0.086), GAP, (208.2, 0.094), (208.5, 0.105), GAP, (209.6, 0.117), (209.9, 0.121), GAP,
    (210.5, 0.133), (210.8, 0.125), GAP, (211.7, 0.148), (212.0, 0.14),
]

p3_19juli_214_222 = [
    (213.97, 0.187), (214.25, 0.218), (214.6, 0.28), GAP, (215.7, 0.21), (216.0, 0.187), GAP,
    (216.76, 0.172), (217.2, 0.168), GAP, (217.6, 0.125), (217.75, 0.148), (218.06, 0.148), GAP,
    (218.35, 0.164), (218.6, 0.179), GAP, (218.8, 0.211), (219.1, 0.187), GAP,
    (219.5, 0.207), (219.9, 0.195), (220.15, 0.172), (220.4, 0.164), GAP,
    (220.8, 0.164), (221.1, 0.14), (221.5, 0.133), GAP, (222.0, 0.195), (222.3, 0.187), GAP,
    (222.7, 0.179), (223.0, 0.164), GAP, (223.7, 0.14), (224.0, 0.148), (224.3, 0.148), GAP,
    (225.0, 0.172), (225.3, 0.164), (225.6, 0.164),
]

p3_19juli_240_250 = [
    (225.6, 0.164), (226.0, 0.164), (226.45, 0.086), (226.6, 0.133), (226.9, 0.14),
    (227.2, 0.148), (227.5, 0.133), (227.8, 0.148), (228.1, 0.133), (228.5, 0.117),
    (228.75, 0.136), (229.05, 0.109), (229.35, 0.094), (229.6, 0.07), (229.75, 0.086),
    (230.05, 0.078), (230.36, 0.047), (230.65, 0.078), (230.9, 0.07), (231.2, 0.086),
    (231.5, 0.078), (231.95, 0.086), (232.4, 0.07), (232.7, 0.086), (233.1, 0.062),
    (233.4, 0.055), (233.7, 0.078), GAP, (233.85, 0.117), (234.1, 0.125), (234.4, 0.14),
]

p3_19juli_251_257 = [
    (234.7, 0.094), (235.0, 0.086), (235.3, 0.078), GAP, (236.15, 0.101), (236.4, 0.07),
    (236.65, 0.094), (236.9, 0.062), GAP, (237.3, 0.117), (237.6, 0.109), (237.9, 0.101),
    (238.2, 0.117), GAP, (238.3, 0.117), (238.6, 0.101), (238.9, 0.109), (239.3, 0.094), GAP,
    (239.5, 0.101), (239.8, 0.086), (240.2, 0.094), GAP, (240.8, 0.117), (241.1, 0.101),
    (241.4, 0.109), GAP, (241.5, 0.156), (241.8, 0.117), GAP, (242.4, 0.094), (242.8, 0.07), GAP,
    (243.1, 0.117), (243.4, 0.125), GAP, (244.7, 0.078), (245.0, 0.039), GAP,
    (246.0, 0.016), (246.3, 0.031),
]

p3_lmw_km = [155.24, 165.9, 165.9, 174.7, 174.7, 177.1, 190.8, 200.7, 202.4, 202.4,
             215.4, 215.4, 230.7, 230.7]
p3_model_lmw = [0.0195, 0.214, -0.039, 0.07, -0.105, 0.021, 0.142, 0.216, 0.111, 0.101,
                0.21, 0.183, 0.144, 0.118]
p3_lidar_km = [155.24, 165.9, 174.7, 177.1, 190.8, 200.7, 202.4]
p3_lidar_lmw = [-0.018, -0.027, -0.052, -0.018, 0.07, 0.013, 0.023]

# ---------------- Legend labels ----------------
label_verschil = "Topwaterstand maas-j21_6-v1b - Topwaterstand LIDAR"
label_model = "maas-j21_6-v1b - LMW meting"
label_lidar = "LIDAR - LMW meting"
track_labels = [
    "LiDAR_16juli_1_8", "LiDAR_16juli_9_11", "LiDAR_16juli_12_23", "LiDAR_16juli_24_52",
    "LiDAR_17juli_54_70", "LiDAR_17juli_71_73en100_113", "LiDAR_17juli_74_99",
    "LiDAR_18juli_114_122", "LiDAR_18juli_123_134", "LiDAR_18juli_135_170",
    "LiDAR_19juli_171_184", "LiDAR_19juli_185_198", "LiDAR_19juli_199_213",
    "LiDAR_19juli_214_222", "LiDAR_19juli_240_250", "LiDAR_19juli_251_257",
]
tab = sns.color_palette("tab10")
track_colors = [tab[0], tab[1], tab[2], tab[3], tab[4], tab[5], tab[6], tab[7], tab[8], tab[9],
                tab[0], tab[1], tab[2], tab[3], tab[4], tab[5]]
GREY_DOT = "#696969"


def draw_track(ax, pts, color, lw, z):
    df = pd.DataFrame(pts, columns=["km", "dz"])
    df["seg"] = df["dz"].isna().cumsum()
    df = df.dropna()
    sns.lineplot(data=df, x="km", y="dz", units="seg", estimator=None, sort=False,
                 color=color, lw=lw, ax=ax, legend=False, zorder=z)


def draw_points(ax, km, vals, color, z):
    sns.scatterplot(x=km, y=vals, color=color, s=40, linewidth=0, ax=ax, zorder=z, legend=False)


plt.rcParams["font.size"] = 10.5
plt.rcParams["xtick.major.size"] = 4.5
plt.rcParams["ytick.major.size"] = 4.5
plt.rcParams["ytick.minor.size"] = 2.6

fig = plt.figure(figsize=(1187 / 150, 1627 / 150), dpi=150)
W = 1187
H = 1627
left = 104 / W
width = 1072 / W
ax1 = fig.add_axes([left, 1 - 360 / H, width, 344 / H])
ax2 = fig.add_axes([left, 1 - 770 / H, width, 343 / H])
ax3 = fig.add_axes([left, 1 - 1181 / H, width, 342 / H])

# Panel 1
draw_track(ax1, p1_verschil, "black", 2.8, 2)
for pts, ci in [(p1_16juli_1_8, 0), (p1_16juli_9_11, 1), (p1_16juli_12_23, 2),
                (p1_16juli_24_52, 3), (p1_17juli_54_70, 4), (p1_17juli_71_73en100_113, 5),
                (p1_17juli_74_99, 6)]:
    draw_track(ax1, pts, track_colors[ci], 1.6, 3)
draw_points(ax1, p1_lmw_km, p1_model_lmw, tab[0], 4)
draw_points(ax1, p1_lidar_km, p1_lidar_lmw, GREY_DOT, 5)

# Panel 2
draw_track(ax2, p2_verschil, "black", 2.0, 2)
for pts, ci in [(p2_17juli_74_99, 6), (p2_18juli_114_122, 7), (p2_18juli_123_134, 8),
                (p2_18juli_135_170, 9)]:
    draw_track(ax2, pts, track_colors[ci], 1.4, 3)
draw_points(ax2, p2_lmw_km, p2_model_lmw, tab[0], 4)
draw_points(ax2, p2_lidar_km, p2_lidar_lmw, GREY_DOT, 5)

# Panel 3
draw_track(ax3, p3_verschil, "black", 2.0, 2)
for pts, ci in [(p3_18juli_135_170, 9), (p3_19juli_171_184, 10), (p3_19juli_185_198, 11),
                (p3_19juli_199_213, 12), (p3_19juli_214_222, 13), (p3_19juli_240_250, 14),
                (p3_19juli_251_257, 15)]:
    draw_track(ax3, pts, track_colors[ci], 1.4, 3)
draw_points(ax3, p3_lmw_km, p3_model_lmw, tab[0], 4)
draw_points(ax3, p3_lidar_km, p3_lidar_lmw, GREY_DOT, 5)

# Axes formatting
ax1.set_xlim(0, 82.2)
ax1.set_ylim(-0.6, 0.6)
ax1.xaxis.set_major_locator(MultipleLocator(10))
ax1.yaxis.set_major_locator(MultipleLocator(0.2))
ax1.yaxis.set_minor_locator(MultipleLocator(0.1))

ax2.set_xlim(85.0, 155.1)
ax2.set_ylim(-0.4, 0.4)
ax2.xaxis.set_major_locator(MultipleLocator(10))
ax2.yaxis.set_major_locator(MultipleLocator(0.2))

ax3.set_xlim(154.07, 247.1)
ax3.set_ylim(-0.4, 0.4)
ax3.xaxis.set_major_locator(MultipleLocator(20))
ax3.yaxis.set_major_locator(MultipleLocator(0.2))

for ax in (ax1, ax2, ax3):
    ax.grid(axis="y", color="#b0b0b0", lw=1.0)
    ax.set_axisbelow(True)
    ax.set_xlabel("")
    ax.set_ylabel("")
    for sp in ax.spines.values():
        sp.set_linewidth(1.0)

ax2.set_ylabel("Verschil in waterstand (m NAP)", fontsize=11, labelpad=1.5)
ax3.set_xlabel("Rivierkilometers (km)", fontsize=10.6)

# Legend
handles = [Line2D([0], [0], color="black", lw=1.8),
           Line2D([0], [0], color=tab[0], marker="o", ls="", markersize=5.8, markeredgewidth=0),
           Line2D([0], [0], color=GREY_DOT, marker="o", ls="", markersize=5.8, markeredgewidth=0)]
handles += [Line2D([0], [0], color=c, lw=1.3) for c in track_colors]
labels = [label_verschil, label_model, label_lidar] + track_labels
fig.legend(handles, labels, loc="upper center", bbox_to_anchor=(640 / W, 1 - 1264 / H),
           ncol=2, borderaxespad=0.0, fontsize=11, labelspacing=0.56)

fig.savefig("out.png", dpi=150)
